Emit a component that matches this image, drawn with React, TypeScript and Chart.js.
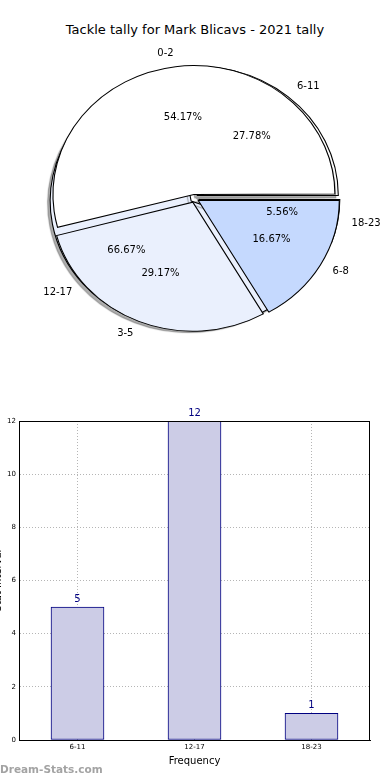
import React, { useEffect, useRef } from 'react';
import { Chart, registerables } from 'chart.js';

Chart.register(...registerables);

const TITLE = 'Tackle tally for Mark Blicavs - 2021 tally';
const ageLabels = ['0-2', '3-5', '6-8'];
const ageValues = [13, 7, 4];
const tallyLabels = ['6-11', '12-17', '18-23'];
const tallyValues = [5, 12, 1];
const yTicks = [0, 2, 4, 6, 8, 10, 12];
const X_TITLE = 'Frequency';
const Y_TITLE = 'Stat Interval';
const WATERMARK = 'Dream-Stats.com';

const FONT = '"DejaVu Sans", Verdana, sans-serif';
const PIE_COLORS = ['#ffffff', '#eaf0fd', '#c5d9fe'];
const R = 129;
const SX = 141 / 129;
const EXPLODE = 4;

Chart.defaults.font.family = FONT;

function PieChart() {
  const ref = useRef<HTMLCanvasElement>(null);
  useEffect(() => {
    const canvas = ref.current as HTMLCanvasElement;

    const shapePlugin = {
      id: 'ellipseExplode',
      afterUpdate(chart: any) {
        chart.data.datasets.forEach((_ds: any, i: number) => {
          const meta = chart.getDatasetMeta(i);
          meta.data.forEach((el: any) => {
            const off = ((el.options && el.options.offset) || 0) / 4;
            const c = el.endAngle - el.startAngle;
            const fix = 1 - Math.sin(Math.min(Math.PI, c));
            el.innerRadius = 0;
            el.outerRadius = R - off * fix;
          });
        });
      },
      beforeDatasetDraw(chart: any, args: any) {
        const ctx = chart.ctx;
        const el = args.meta.data[0];
        const cx = el.x;
        const cy = el.y;
        ctx.save();
        ctx.translate(cx, cy);
        ctx.scale(SX, -1);
        ctx.translate(-cx, -cy);
        if (args.index === 1) {
          ctx.shadowColor = 'rgba(0,0,0,0.32)';
          ctx.shadowOffsetX = -2.5;
          ctx.shadowOffsetY = 2.5;
          ctx.shadowBlur = 1;
        }
      },
      afterDatasetDraw(chart: any) {
        chart.ctx.restore();
      },
    };

    const labelPlugin = {
      id: 'pieLabels',
      afterDraw(chart: any) {
        const ctx = chart.ctx;
        const sets = [
          { labels: ageLabels, values: ageValues },
          { labels: tallyLabels, values: tallyValues },
        ];
        ctx.save();
        ctx.fillStyle = '#000';
        ctx.font = `10px ${FONT}`;
        ctx.textBaseline = 'middle';
        sets.forEach((s, i) => {
          const meta = chart.getDatasetMeta(i);
          const total = s.values.reduce((a, b) => a + b, 0);
          meta.data.forEach((el: any, j: number) => {
            const mid = (el.startAngle + el.endAngle) / 2;
            const cos = Math.cos(mid);
            const sin = Math.sin(mid);
            const ox = el.x + SX * EXPLODE * cos;
            const oy = el.y - EXPLODE * sin;
            ctx.textAlign = cos > 0 ? 'left' : 'right';
            ctx.fillText(s.labels[j], ox + SX * R * 1.1 * cos, oy - R * 1.1 * sin);
            ctx.textAlign = 'center';
            const pct = ((s.values[j] / total) * 100).toFixed(2) + '%';
            ctx.fillText(pct, ox + SX * R * 0.6 * cos, oy - R * 0.6 * sin);
          });
        });
        ctx.restore();
      },
    };

    const chart = new Chart(canvas, {
      type: 'pie',
      data: {
        labels: ageLabels,
        datasets: [
          {
            data: ageValues,
            backgroundColor: PIE_COLORS,
            borderColor: '#000000',
            borderWidth: 1,
            borderJoinStyle: 'miter',
            offset: EXPLODE * 4,
          } as any,
          {
            data: tallyValues,
            backgroundColor: PIE_COLORS,
            borderColor: '#000000',
            borderWidth: 1,
            borderJoinStyle: 'miter',
            offset: EXPLODE * 4,
          } as any,
        ],
      },
      options: {
        responsive: false,
        animation: false,
        rotation: 90,
        layout: { padding: { left: 0, right: 1, top: 0, bottom: 0 } },
        plugins: { legend: { display: false }, tooltip: { enabled: false } },
      } as any,
      plugins: [shapePlugin, labelPlugin],
    });
    return () => chart.destroy();
  }, []);
  return (
    <canvas
      ref={ref}
      width={390}
      height={397}
      style={{ position: 'absolute', left: 0, top: 0, width: 390, height: 397 }}
    />
  );
}

function BarChart() {
  const ref = useRef<HTMLCanvasElement>(null);
  useEffect(() => {
    const canvas = ref.current as HTMLCanvasElement;

    const framePlugin = {
      id: 'frame',
      afterDraw(chart: any) {
        const { ctx, chartArea } = chart;
        ctx.save();
        ctx.strokeStyle = '#000';
        ctx.lineWidth = 1;
        ctx.beginPath();
        ctx.moveTo(chartArea.left, Math.round(chartArea.top) + 0.5);
        ctx.lineTo(chartArea.right, Math.round(chartArea.top) + 0.5);
        ctx.moveTo(Math.round(chartArea.right) - 0.5, chartArea.top);
        ctx.lineTo(Math.round(chartArea.right) - 0.5, chartArea.bottom);
        ctx.stroke();
        ctx.restore();
      },
    };

    const valuePlugin = {
      id: 'values',
      afterDraw(chart: any) {
        const ctx = chart.ctx;
        const meta = chart.getDatasetMeta(0);
        ctx.save();
        ctx.fillStyle = '#000080';
        ctx.font = `10px ${FONT}`;
        ctx.textAlign = 'center';
        ctx.textBaseline = 'middle';
        meta.data.forEach((el: any, i: number) => {
          ctx.fillText(String(tallyValues[i]), el.x, el.y - 8);
        });
        ctx.restore();
      },
    };

    const gridColor = '#b5b5b5';

    const chart = new Chart(canvas, {
      type: 'bar',
      data: {
        labels: tallyLabels,
        datasets: [
          {
            data: tallyValues,
            backgroundColor: '#ccccE6',
            borderColor: '#000080',
            borderWidth: 1,
            borderSkipped: false,
            barThickness: 53,
          } as any,
        ],
      },
      options: {
        responsive: false,
        animation: false,
        layout: { padding: { left: 0, right: 20, top: 21, bottom: 0 } },
        plugins: { legend: { display: false }, tooltip: { enabled: false } },
        scales: {
          x: {
            z: 1,
            grid: { offset: false, color: gridColor, lineWidth: 1, drawTicks: false },
            border: { color: '#000', width: 1, dash: [1, 2] },
            ticks: { font: { size: 7, family: FONT }, color: '#000', padding: 3, maxRotation: 0 },
            title: {
              display: true,
              text: X_TITLE,
              font: { size: 10, family: FONT },
              color: '#000',
              padding: { top: 0, bottom: 13 },
            },
            afterFit(s: any) {
              s.height = 40;
            },
          },
          y: {
            z: 1,
            min: 0,
            max: 12,
            grid: { color: gridColor, lineWidth: 1, drawTicks: false },
            border: { color: '#000', width: 1, dash: [1, 2] },
            ticks: { font: { size: 7, family: FONT }, color: '#000', padding: 3, stepSize: 2 },
            title: {
              display: true,
              text: Y_TITLE,
              font: { size: 10, family: FONT },
              color: '#000',
              padding: { top: 2, bottom: 0 },
            },
            afterBuildTicks(s: any) {
              s.ticks = yTicks.map((v) => ({ value: v }));
            },
            afterFit(s: any) {
              s.width = 29;
            },
          },
        },
      } as any,
      plugins: [framePlugin, valuePlugin],
    });
    return () => chart.destroy();
  }, []);
  return (
    <canvas
      ref={ref}
      width={400}
      height={380}
      style={{ position: 'absolute', left: -10, top: 400, width: 400, height: 380 }}
    />
  );
}

export default function App() {
  return (
    <div
      style={{
        position: 'absolute',
        left: 0,
        top: 0,
        width: 390,
        height: 780,
        overflow: 'hidden',
        background: '#ffffff',
        fontFamily: FONT,
      }}
    >
      <div
        style={{
          position: 'absolute',
          left: 0,
          top: 22,
          width: 390,
          textAlign: 'center',
          fontSize: 13,
          lineHeight: '16px',
          color: '#000',
          whiteSpace: 'nowrap',
        }}
      >
        {TITLE}
      </div>
      <PieChart />
      <BarChart />
      <div
        style={{
          position: 'absolute',
          left: 0,
          top: 763,
          fontSize: 10.5,
          fontWeight: 'bold',
          lineHeight: '12px',
          color: '#a3a3a3',
          whiteSpace: 'nowrap',
        }}
      >
        {WATERMARK}
      </div>
    </div>
  );
}
